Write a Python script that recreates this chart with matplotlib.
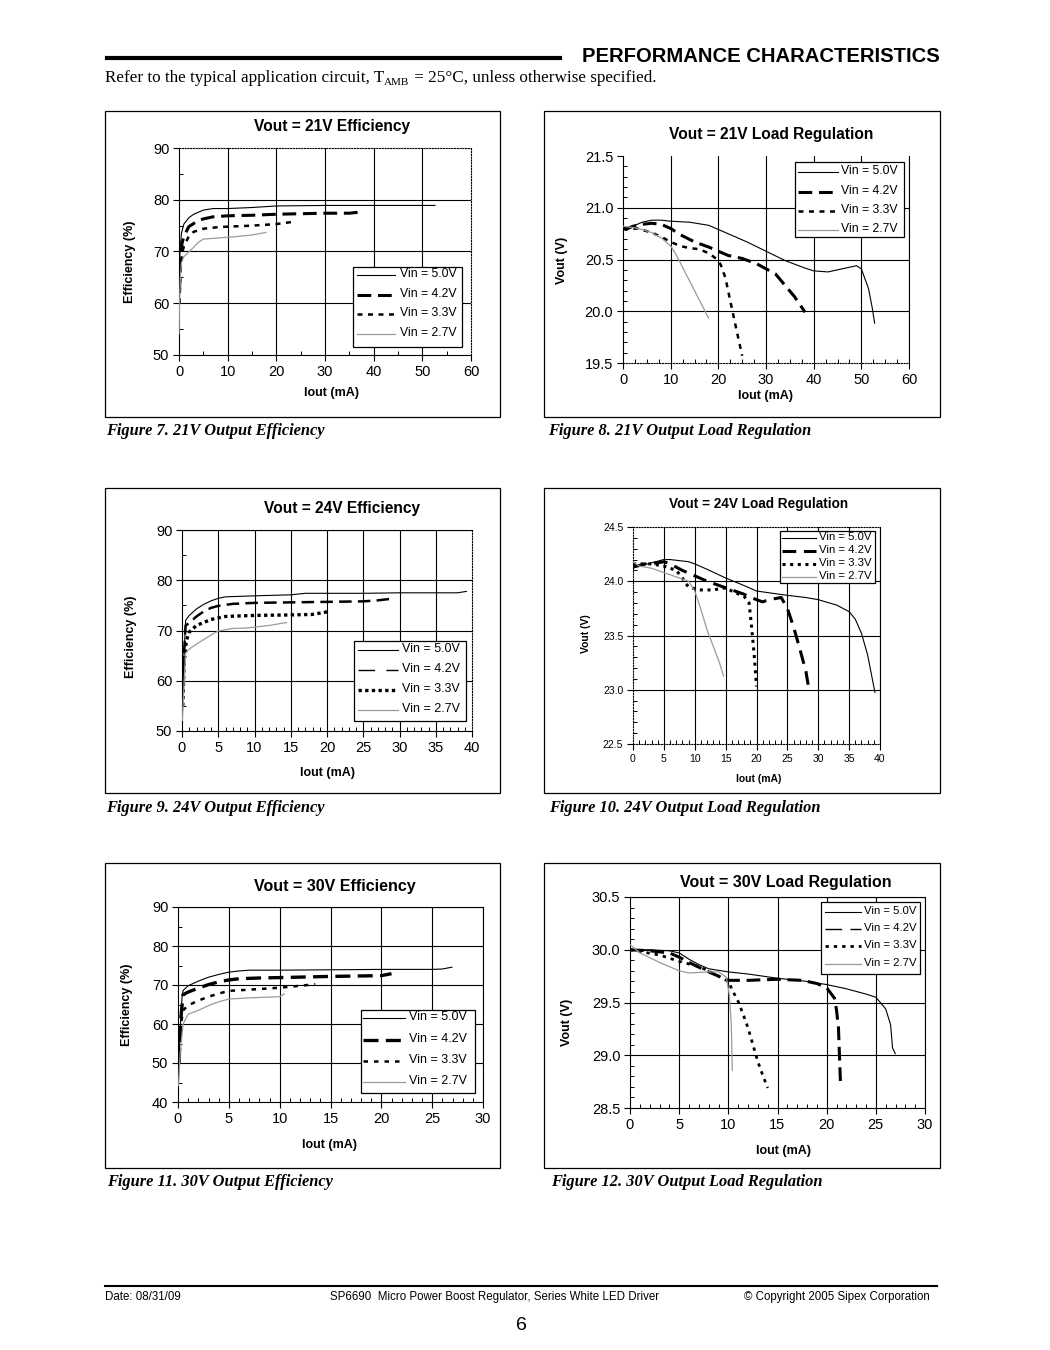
import numpy as np
import matplotlib
matplotlib.use("Agg")
import matplotlib.pyplot as plt
from matplotlib.lines import Line2D
from matplotlib.patches import Rectangle
from matplotlib.ticker import MultipleLocator, FormatStrFormatter

plt.rcParams['font.family'] = ['Liberation Sans', 'DejaVu Sans']

W, H = 1050, 1350
SERIES = ["Vin = 5.0V", "Vin = 4.2V", "Vin = 3.3V", "Vin = 2.7V"]

# ---- Figure 7: Vout = 21V efficiency ----
eff21_x_50 = [0.05, 0.2, 0.5, 1, 2, 3, 5, 7, 10, 15, 20, 30, 40, 52.7]
eff21_y_50 = [58, 70, 73.5, 75.3, 76.5, 77.2, 78, 78.3, 78.3, 78.5, 78.8, 78.9, 78.9, 78.9]
eff21_x_42 = [0.1, 0.3, 0.6, 1, 2, 4, 5, 7, 10, 15, 20, 25, 30, 35, 38]
eff21_y_42 = [62, 68, 71.5, 72.9, 74.8, 76.0, 76.3, 76.7, 76.9, 77.0, 77.2, 77.3, 77.4, 77.4, 77.7]
eff21_x_33 = [0.1, 0.3, 0.6, 1, 2, 3, 5, 8, 10, 15, 20, 24]
eff21_y_33 = [60, 66, 69.5, 71, 72.9, 73.8, 74.4, 74.7, 74.8, 75.0, 75.3, 75.8]
eff21_x_27 = [0.02, 0.1, 0.3, 0.5, 1, 2, 3, 4, 5, 8, 12, 15, 18]
eff21_y_27 = [54, 60, 65, 67.8, 69.0, 69.9, 70.8, 71.8, 72.4, 72.6, 72.9, 73.2, 73.7]

# ---- Figure 8: Vout = 21V load regulation ----
lr21_x_50 = [0, 0.5, 2, 4, 6, 8, 10, 14, 18, 22, 26, 30, 34, 38, 40, 43, 46, 49, 50, 51.5, 52.3, 52.8]
lr21_y_50 = [20.80, 20.78, 20.82, 20.86, 20.88, 20.88, 20.87, 20.86, 20.83, 20.75, 20.67, 20.58,
             20.49, 20.42, 20.39, 20.38, 20.41, 20.44, 20.41, 20.22, 20.03, 19.88]
lr21_x_42 = [0, 1, 2, 4, 6, 8, 10, 12, 15, 18, 20, 22, 25, 28, 30, 32, 34, 36, 38.2]
lr21_y_42 = [20.80, 20.80, 20.82, 20.84, 20.85, 20.84, 20.80, 20.74, 20.67, 20.62, 20.58, 20.54,
             20.51, 20.46, 20.41, 20.36, 20.25, 20.14, 19.99]
lr21_x_33 = [0, 1, 3, 6, 8, 10, 12, 14, 16, 18, 19.5, 20.5, 21.5, 22.5, 23.2, 24, 25]
lr21_y_33 = [20.80, 20.79, 20.80, 20.76, 20.72, 20.67, 20.63, 20.61, 20.60, 20.56, 20.51, 20.45,
             20.32, 20.10, 19.95, 19.78, 19.57]
lr21_x_27 = [0, 2, 4, 6, 8, 10, 11, 12, 13, 14, 15, 16, 17, 18]
lr21_y_27 = [20.82, 20.81, 20.79, 20.76, 20.71, 20.63, 20.56, 20.47, 20.38, 20.29, 20.20, 20.11,
             20.02, 19.93]

# ---- Figure 9: Vout = 24V efficiency ----
eff24_x_50 = [0.05, 0.3, 0.5, 1, 2, 3, 4, 5, 6, 10, 15, 17, 25, 30, 38, 39.3]
eff24_y_50 = [55, 66, 72, 73, 74.3, 75.2, 75.9, 76.4, 76.7, 76.9, 77.1, 77.4, 77.4, 77.5, 77.5, 77.8]
eff24_x_42 = [0.1, 0.3, 0.5, 1, 2, 3, 4, 5, 7, 10, 20, 25, 27, 28.8]
eff24_y_42 = [58, 66, 71, 71.5, 72.8, 73.8, 74.5, 74.9, 75.3, 75.5, 75.7, 75.8, 76.0, 76.3]
eff24_x_33 = [0.1, 0.3, 0.6, 1, 2, 4, 6, 10, 15, 18, 20]
eff24_y_33 = [55, 64, 68, 69.7, 71, 72.2, 72.8, 73, 73.1, 73.2, 73.7]
eff24_x_27 = [0.05, 0.3, 0.5, 1, 2, 3, 4, 5, 7, 9, 12, 14.5]
eff24_y_27 = [52, 60, 65.5, 66.3, 67.3, 68.2, 69.1, 69.9, 70.4, 70.5, 71, 71.6]

# ---- Figure 10: Vout = 24V load regulation ----
lr24_x_50 = [0, 1, 3, 5, 6, 9, 10, 12, 15, 18, 20, 25, 28, 30, 33, 35, 36, 37, 38, 39.2]
lr24_y_50 = [24.15, 24.14, 24.17, 24.20, 24.20, 24.18, 24.16, 24.11, 24.03, 23.96, 23.91, 23.87,
             23.85, 23.83, 23.78, 23.72, 23.65, 23.52, 23.32, 22.97]
lr24_x_42 = [0, 2, 4, 5, 6, 8, 10, 12, 14, 16, 18, 20, 21, 22, 24, 25, 26, 27, 28, 28.5]
lr24_y_42 = [24.13, 24.16, 24.17, 24.18, 24.16, 24.10, 24.05, 24.00, 23.96, 23.92, 23.88, 23.83,
             23.81, 23.83, 23.85, 23.75, 23.58, 23.38, 23.17, 23.00]
lr24_x_33 = [0, 3, 5, 7, 8, 8.5, 9, 10, 11, 13, 15, 16, 18, 18.8, 19.2, 19.5, 19.7, 20]
lr24_y_33 = [24.16, 24.16, 24.14, 24.10, 24.03, 23.98, 23.95, 23.93, 23.92, 23.92, 23.94, 23.91,
             23.86, 23.80, 23.58, 23.40, 23.27, 23.03]
lr24_x_27 = [0, 1, 3, 5, 7, 9, 10, 11, 12, 13, 14, 14.7]
lr24_y_27 = [24.18, 24.14, 24.12, 24.08, 24.04, 24.00, 23.91, 23.74, 23.55, 23.40, 23.25, 23.12]

# ---- Figure 11: Vout = 30V efficiency ----
eff30_x_50 = [0.05, 0.2, 0.4, 0.5, 1, 2, 3, 4, 5, 6, 7, 10, 15, 20, 25, 26, 27]
eff30_y_50 = [46, 58, 67, 68.6, 69.8, 71, 72, 72.7, 73.3, 73.6, 73.8, 73.8, 73.9, 74, 74, 74.1, 74.6]
eff30_x_42 = [0.1, 0.3, 0.5, 1, 2, 3, 4, 5, 6, 8, 10, 15, 20, 21]
eff30_y_42 = [50, 62, 67.5, 68.2, 69.2, 70.1, 70.8, 71.3, 71.6, 71.8, 71.9, 72.2, 72.4, 72.9]
eff30_x_33 = [0.1, 0.3, 0.5, 1, 2, 3, 4, 5, 7, 10, 12, 13.5]
eff30_y_33 = [50, 60, 63.5, 64.8, 66, 67, 67.8, 68.5, 68.8, 69.3, 69.8, 70.2]
eff30_x_27 = [0.05, 0.2, 0.5, 1, 2, 3, 4, 5, 7, 10, 10.5]
eff30_y_27 = [44, 52, 60, 62.5, 63.5, 64.7, 65.7, 66.4, 66.7, 67, 67.8]

# ---- Figure 12: Vout = 30V load regulation ----
lr30_x_50 = [0, 2, 4, 5, 6, 7, 8, 10, 12, 15, 18, 20, 22, 24, 25, 26, 26.5, 26.7, 27]
lr30_y_50 = [30.00, 30.00, 29.99, 29.97, 29.91, 29.86, 29.82, 29.79, 29.77, 29.73, 29.70, 29.67,
             29.63, 29.58, 29.55, 29.44, 29.29, 29.07, 29.01]
lr30_x_42 = [0, 2, 4, 5, 6, 8, 9, 10, 12, 15, 17.5, 19, 20, 20.8, 21, 21.2, 21.3, 21.4]
lr30_y_42 = [30.00, 29.99, 29.97, 29.93, 29.88, 29.79, 29.75, 29.71, 29.71, 29.72, 29.71, 29.68,
             29.64, 29.54, 29.43, 29.26, 29.00, 28.75]
lr30_x_33 = [0, 3, 5, 7, 8, 9, 10, 10.5, 11, 11.5, 12, 12.5, 13, 13.5, 14]
lr30_y_33 = [30.00, 29.95, 29.89, 29.84, 29.80, 29.75, 29.70, 29.60, 29.51, 29.39, 29.26, 29.10,
             28.94, 28.81, 28.69]
lr30_x_27 = [0, 1, 3, 5, 6, 8, 9, 9.8, 10.1, 10.3, 10.4]
lr30_y_27 = [30.05, 29.97, 29.88, 29.80, 29.78, 29.79, 29.79, 29.74, 29.57, 29.30, 28.85]

fig = plt.figure(figsize=(W / 100, H / 100), dpi=100)


def fx(x):
    return x / W


def fy(y):
    return 1 - y / H


def style(i, lw42=2.2, lw33=1.8, d42=(4.5, 2.2), d33=(2.0, 2.2)):
    return [dict(color='black', linewidth=0.8, linestyle='-'),
            dict(color='black', linewidth=lw42, linestyle=(0, d42)),
            dict(color='black', linewidth=lw33, linestyle=(0, d33)),
            dict(color='#9a9a9a', linewidth=0.9, linestyle='-')][i]


def panel(frame, rect, xlim, ylim, xmaj, xmin, ymaj, ymin, yfmt, fs, title, tpos, tfs,
          ylab, xlpos, ylpos, lfs, data, styles, dotted, leg, leg_styles):
    # outer frame
    fx0, fy0, fx1, fy1 = frame
    fig.add_artist(Rectangle((fx(fx0), fy(fy1)), (fx1 - fx0) / W, (fy1 - fy0) / H,
                             transform=fig.transFigure, fill=False, edgecolor='black', lw=0.9))
    x0, y0, x1, y1 = rect
    ax = fig.add_axes([fx(x0), fy(y1), (x1 - x0) / W, (y1 - y0) / H])
    ax.set_xlim(*xlim)
    ax.set_ylim(*ylim)
    ax.xaxis.set_major_locator(MultipleLocator(xmaj))
    ax.xaxis.set_minor_locator(MultipleLocator(xmin))
    ax.yaxis.set_major_locator(MultipleLocator(ymaj))
    ax.yaxis.set_minor_locator(MultipleLocator(ymin))
    ax.yaxis.set_major_formatter(FormatStrFormatter(yfmt))
    ax.tick_params(which='major', direction='out', length=4, width=0.8, labelsize=fs, pad=3)
    ax.tick_params(which='minor', direction='in', length=3, width=0.7)
    ax.tick_params(which='both', top=False, right=False)
    for s, sp in ax.spines.items():
        sp.set_linewidth(0.8)
        st = dotted.get(s, '-')
        if st is None:
            sp.set_visible(False)
        elif st == ':':
            sp.set_linestyle((0, (1, 1.5)))
    # grid lines (interior + solid edges)
    for v in np.arange(xlim[0], xlim[1] + 1e-9, xmaj):
        if xlim[0] < v < xlim[1] - 1e-9 or (abs(v - xlim[1]) < 1e-9 and dotted.get('right', '-') == '-'):
            ax.axvline(v, color='black', lw=0.8, zorder=1)
    for v in np.arange(ylim[0], ylim[1] + 1e-9, ymaj):
        if ylim[0] + 1e-9 < v < ylim[1] - 1e-9 or (abs(v - ylim[1]) < 1e-9 and dotted.get('top', '-') == '-'):
            ax.axhline(v, color='black', lw=0.8, zorder=1)
    for (xs, ys), st in zip(data, styles):
        ax.plot(xs, ys, zorder=3, solid_capstyle='butt', dash_capstyle='butt', **st)
    ax.set_xlabel("Iout (mA)", fontsize=lfs, fontweight='bold')
    ax.set_ylabel(ylab, fontsize=lfs, fontweight='bold')
    ax.xaxis.set_label_coords((xlpos[0] - x0) / (x1 - x0), (y1 - xlpos[1]) / (y1 - y0))
    ax.yaxis.set_label_coords((ylpos[0] - x0) / (x1 - x0), (y1 - ylpos[1]) / (y1 - y0))
    ax.xaxis.label.set_va('center')
    ax.yaxis.label.set_va('center')
    fig.text(fx(tpos[0]), fy(tpos[1]), title, fontsize=tfs, fontweight='bold',
             ha='center', va='center')
    # legend box
    box, rows, lx, tx, gfs = leg
    bx0, by0, bx1, by1 = box
    fig.add_artist(Rectangle((fx(bx0), fy(by1)), (bx1 - bx0) / W, (by1 - by0) / H,
                             transform=fig.transFigure, facecolor='white', edgecolor='black',
                             lw=0.9, zorder=10))
    for lab, ry, st in zip(SERIES, rows, leg_styles):
        fig.add_artist(Line2D([fx(lx[0]), fx(lx[1])], [fy(ry + 1)] * 2,
                              transform=fig.transFigure, zorder=11, **st))
        fig.text(fx(tx), fy(ry), lab, fontsize=gfs, ha='left', va='center', zorder=11)
    return ax


std = [style(i) for i in range(4)]
TFS = 10.5

# Figure 7
panel((105, 111, 500, 417), (179, 148, 471, 355), (0, 60), (50, 90), 10, 5, 10, 5, '%d', TFS,
      "Vout = 21V Efficiency", (332, 127), 11.2, "Efficiency (%)", (332, 393), (130, 262), 9,
      [(eff21_x_50, eff21_y_50), (eff21_x_42, eff21_y_42), (eff21_x_33, eff21_y_33),
       (eff21_x_27, eff21_y_27)], std, {'top': ':', 'right': ':'},
      ((353, 267, 462, 347), [274, 294, 313, 333], (357, 395), 400, 8.8), std)

# Figure 8
panel((544, 111, 940, 417), (623, 156, 909, 363), (0, 60), (19.5, 21.5), 10, 2.5, 0.5, 0.1, '%.1f',
      TFS, "Vout = 21V Load Regulation", (771, 135), 11.2, "Vout (V)", (766, 396), (562, 260), 9,
      [(lr21_x_50, lr21_y_50), (lr21_x_42, lr21_y_42), (lr21_x_33, lr21_y_33),
       (lr21_x_27, lr21_y_27)], std, {'top': None, 'bottom': ':'},
      ((795, 162, 904, 237), [171, 191, 210, 229], (798, 838), 841, 8.8), std)

# Figure 9
s9 = [style(0), style(1, lw42=1.8, d42=(5, 2.5)), style(2, lw33=2.4, d33=(1.0, 1.0)), style(3)]
l9 = [style(0), style(1, lw42=1.0, d42=(12, 8)), style(2, lw33=2.4, d33=(1.0, 1.0)), style(3)]
panel((105, 488, 500, 793), (182, 530, 472, 731), (0, 40), (50, 90), 5, 1, 10, 5, '%d', TFS,
      "Vout = 24V Efficiency", (342, 509), 11.2, "Efficiency (%)", (327, 773), (131, 637), 9,
      [(eff24_x_50, eff24_y_50), (eff24_x_42, eff24_y_42), (eff24_x_33, eff24_y_33),
       (eff24_x_27, eff24_y_27)], s9, {'right': ':'},
      ((354, 641, 466, 721), [649, 669, 689, 709], (358, 398), 402, 9), l9)

# Figure 10
s10 = [style(0), style(1, lw42=2.2, d42=(4.5, 2.5)), style(2, lw33=2.2, d33=(1.0, 1.5)), style(3)]
panel((544, 488, 940, 793), (633, 527, 880, 744), (0, 40), (22.5, 24.5), 5, 1, 0.5, 0.1, '%.1f',
      7.5, "Vout = 24V Load Regulation", (759, 504), 9.8, "Vout (V)", (759, 779), (586, 634), 7.5,
      [(lr24_x_50, lr24_y_50), (lr24_x_42, lr24_y_42), (lr24_x_33, lr24_y_33),
       (lr24_x_27, lr24_y_27)], s10, {'top': ':', 'bottom': ':', 'left': ':'},
      ((780, 531, 875, 583), [537, 550, 563, 576], (782, 816), 819, 8.2), s10)

# Figure 11
s11 = [style(0), style(1, lw42=2.4, d42=(4.5, 2.2)), style(2, lw33=1.8, d33=(1.8, 2.4)), style(3)]
panel((105, 863, 500, 1168), (178, 907, 483, 1102), (0, 30), (40, 90), 5, 1, 10, 5, '%d', TFS,
      "Vout = 30V Efficiency", (335, 887), 11.5, "Efficiency (%)", (330, 1145), (127, 1005), 9,
      [(eff30_x_50, eff30_y_50), (eff30_x_42, eff30_y_42), (eff30_x_33, eff30_y_33),
       (eff30_x_27, eff30_y_27)], s11, {},
      ((361, 1010, 475, 1093), [1017, 1039, 1060, 1081], (363, 405), 409, 9), s11)

# Figure 12
s12 = [style(0), style(1, lw42=2.2, d42=(4.5, 2.2)), style(2, lw33=2.0, d33=(1.2, 1.8)), style(3)]
l12 = [style(0), style(1, lw42=1.0, d42=(12, 6)), style(2, lw33=2.0, d33=(1.2, 1.8)), style(3)]
panel((544, 863, 940, 1168), (630, 897, 925, 1108), (0, 30), (28.5, 30.5), 5, 1, 0.5, 0.1, '%.1f',
      TFS, "Vout = 30V Load Regulation", (786, 882), 11.5, "Vout (V)", (783, 1151), (567, 1022), 9,
      [(lr30_x_50, lr30_y_50), (lr30_x_42, lr30_y_42), (lr30_x_33, lr30_y_33),
       (lr30_x_27, lr30_y_27)], s12, {},
      ((821, 902, 920, 974), [911, 928, 945, 963], (825, 861), 864, 8.2), l12)

# ---- Captions ----
cap = dict(fontfamily='Liberation Serif', fontweight='bold', fontstyle='italic', fontsize=11.8,
           ha='left', va='center')
fig.text(fx(106), fy(431), "Figure 7. 21V Output Efficiency", **cap)
fig.text(fx(548), fy(431), "Figure 8. 21V Output Load Regulation", **cap)
fig.text(fx(106), fy(808), "Figure 9. 24V Output Efficiency", **cap)
fig.text(fx(549), fy(808), "Figure 10. 24V Output Load Regulation", **cap)
fig.text(fx(107), fy(1182), "Figure 11. 30V Output Efficiency", **cap)
fig.text(fx(551), fy(1182), "Figure 12. 30V Output Load Regulation", **cap)

# ---- Header ----
fig.add_artist(Line2D([fx(107), fx(560)], [fy(58)] * 2, transform=fig.transFigure,
                      color='black', lw=3))
fig.text(fx(940), fy(56), "PERFORMANCE CHARACTERISTICS", fontsize=14.6, fontweight='bold',
         ha='right', va='center')
serif = dict(fontfamily='Liberation Serif', fontsize=12.3, va='baseline')
fig.canvas.draw()
r = fig.canvas.get_renderer()
t1 = fig.text(fx(105), fy(82), "Refer to the typical application circuit, T", **serif)
e1 = t1.get_window_extent(renderer=r)
t2 = fig.text(e1.x1 / W, fy(85), "AMB", fontfamily='Liberation Serif', fontsize=8,
              va='baseline')
e2 = t2.get_window_extent(renderer=r)
fig.text(e2.x1 / W, fy(82), " = 25\u00b0C, unless otherwise specified.", **serif)

# ---- Footer ----
fig.add_artist(Line2D([fx(105), fx(937)], [fy(1286)] * 2, transform=fig.transFigure,
                      color='black', lw=1.5))
foot = dict(fontsize=8.3, va='center')
fig.text(fx(105), fy(1297), "Date: 08/31/09", ha='left', **foot)
fig.text(fx(495), fy(1297), "SP6690  Micro Power Boost Regulator, Series White LED Driver",
         ha='center', **foot)
fig.text(fx(930), fy(1297), "\u00a9 Copyright 2005 Sipex Corporation", ha='right', **foot)
fig.text(fx(521), fy(1326), "6", fontsize=14, ha='center', va='center')

fig.savefig("out.png", dpi=100)
